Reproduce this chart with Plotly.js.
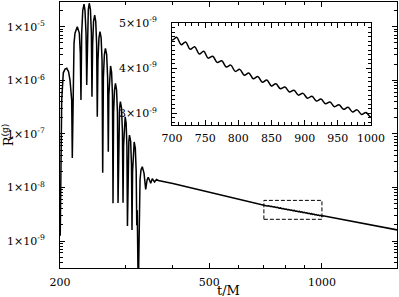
<!DOCTYPE html>
<html>
<head>
<meta charset="utf-8">
<script src="https://cdn.plot.ly/plotly-3.0.1.min.js"></script>
<style>html,body{margin:0;padding:0;background:#fff;}#plot{width:399px;height:297px;}</style>
</head>
<body>
<div id="plot"></div>
<script>
// ringdown part of R^(g)(t)
const tRing = [200.3, 201.2, 202.1, 204.1, 206.3, 208.5, 210.8, 212.7, 214.9, 215.7,
 216.6, 218.0, 219.3, 222.4, 225.2, 226.6, 227.5,
 228.5, 230.0, 231.8, 233.2, 234.7, 235.7,
 236.6, 238.0, 239.4, 241.1, 242.5, 243.4,
 244.4, 245.8, 247.5, 249.1, 250.5, 251.5,
 252.5, 254.1, 255.7, 257.5, 259.0, 260.0,
 261.1, 262.7, 264.4, 266.4, 268.0, 269.1,
 270.0, 271.5, 272.9, 274.6, 276.1, 277.0,
 278.0, 279.6, 281.2, 283.1, 284.7, 285.7,
 286.8, 288.4, 289.8, 291.9, 293.5, 294.6,
 295.6, 297.0, 298.5, 300.3, 301.7, 302.7,
 303.7, 305.3, 306.5, 308.7, 310.3, 311.3,
 312.4, 314.0, 315.5, 317.7, 319.4, 320.5, 321.5, 323.5,
 325.0, 327.0, 329.0, 331.6, 335.2, 337.2, 338.6,
 341.5, 344.0, 346.5, 349.2, 352.6, 357.4, 362.0, 366.0];
const rRing = [1.26e-9, 1.0e-7, 4.27e-7, 1.38e-6, 1.62e-6, 1.675e-6, 1.45e-6, 1.0e-6, 4.27e-7, 3.55e-8,
 6.31e-7, 4.9e-6, 7.59e-6, 1.0e-5, 7.59e-6, 3.16e-6, 4.29e-7,
 7.41e-6, 2.0e-5, 2.65e-5, 2.0e-5, 7.41e-6, 8.17e-7,
 7.76e-6, 2.09e-5, 2.74e-5, 2.09e-5, 7.76e-6, 4.94e-7,
 4.68e-6, 1.26e-5, 1.65e-5, 1.26e-5, 4.68e-6, 2.09e-7,
 2.29e-6, 6.17e-6, 8.07e-6, 6.17e-6, 2.29e-6, 1.89e-8,
 1.12e-6, 3.02e-6, 3.95e-6, 3.02e-6, 1.12e-6, 4.66e-8,
 5.25e-7, 1.41e-6, 1.85e-6, 1.41e-6, 5.25e-7, 5.07e-9,
 2.45e-7, 6.61e-7, 8.79e-7, 6.61e-7, 2.45e-7, 5.14e-9,
 1.12e-7, 3.02e-7, 3.99e-7, 3.02e-7, 1.12e-7, 5.2e-9,
 5.89e-8, 1.58e-7, 2.09e-7, 1.58e-7, 5.89e-8, 1.91e-9,
 2.69e-8, 7.24e-8, 9.53e-8, 7.24e-8, 2.69e-8, 1.61e-9,
 2.0e-8, 5.37e-8, 7.06e-8, 5.37e-8, 2.0e-8, 1.98e-9, 3.77e-9, 1.0e-10,
 3.16e-9, 1.38e-8, 2.14e-8, 2.44e-8, 1.84e-8, 1.2e-8, 9.25e-9,
 1.38e-8, 1.55e-8, 1.38e-8, 1.2e-8, 1.46e-8, 1.27e-8, 1.41e-8, 1.35e-8];

// late-time tail (with small oscillations)
const tTail = [400, 450, 500, 550, 600, 650, 700,
 707.0, 713.8, 720.6, 727.4, 734.2, 741.0, 747.8, 754.6, 761.4, 768.2,
 775.0, 781.8, 788.6, 795.4, 802.2, 809.0, 815.8, 822.6, 829.4, 836.2,
 843.0, 849.8, 856.6, 863.4, 870.2, 877.0, 883.8, 890.6, 897.4, 904.2,
 911.0, 917.8, 924.6, 931.4, 938.2, 945.0, 951.8, 958.6, 965.4, 972.2,
 979.0, 985.8, 992.6, 999.4, 1006.2, 1100, 1250, 1400, 1600];
const rTail = [1.19e-8, 9.77e-9, 8.2e-9, 6.99e-9, 6.04e-9, 5.29e-9, 4.625e-9,
 4.682e-9, 4.520e-9, 4.578e-9, 4.417e-9, 4.475e-9, 4.313e-9, 4.372e-9, 4.222e-9, 4.263e-9, 4.124e-9,
 4.165e-9, 4.026e-9, 4.067e-9, 3.928e-9, 3.972e-9, 3.843e-9, 3.893e-9, 3.764e-9, 3.815e-9, 3.685e-9,
 3.736e-9, 3.606e-9, 3.653e-9, 3.543e-9, 3.582e-9, 3.473e-9, 3.511e-9, 3.402e-9, 3.441e-9, 3.334e-9,
 3.376e-9, 3.271e-9, 3.314e-9, 3.209e-9, 3.251e-9, 3.146e-9, 3.189e-9, 3.087e-9, 3.132e-9, 3.030e-9,
 3.075e-9, 2.973e-9, 3.018e-9, 2.916e-9, 2.962e-9, 2.62e-9, 2.22e-9, 1.90e-9, 1.60e-9];

// tick labels
const xTickVals = [200, 500, 1000];
const xTickText = ['200', '500', '1000'];
const yTickVals = [1e-9, 1e-8, 1e-7, 1e-6, 1e-5];
const yTickText = ['1×10<sup>-9</sup>', '1×10<sup>-8</sup>', '1×10<sup>-7</sup>', '1×10<sup>-6</sup>', '1×10<sup>-5</sup>'];
const insetXTickVals = [700, 750, 800, 850, 900, 950, 1000];
const insetYTickVals = [3e-9, 4e-9, 5e-9];
const insetYTickText = ['3×10<sup>-9</sup>', '4×10<sup>-9</sup>', '5×10<sup>-9</sup>'];

// zoom window marked on the main panel
const boxT = [700, 1000, 1000, 700, 700];
const boxR = [2.55e-9, 2.55e-9, 5.75e-9, 5.75e-9, 2.55e-9];

const tAll = tRing.concat(tTail);
const rAll = rRing.concat(rTail);

// minor ticks for log axes
const xMinor = [300, 400, 600, 700, 800, 900];
const yMinor = [];
for (let e = -10; e <= -5; e++) for (let m = 2; m <= 9; m++) yMinor.push(m * Math.pow(10, e));

const FONT = '"DejaVu Serif", serif';
const TS = 11;

const traces = [
  {x: tAll, y: rAll, type: 'scatter', mode: 'lines', line: {color: 'black', width: 1.5}, xaxis: 'x', yaxis: 'y', hoverinfo: 'skip'},
  {x: boxT, y: boxR, type: 'scatter', mode: 'lines', line: {color: 'black', width: 1, dash: '4px,2px'}, xaxis: 'x', yaxis: 'y', hoverinfo: 'skip'},
  {x: tAll, y: rAll, type: 'scatter', mode: 'lines', line: {color: 'black', width: 1.5, shape: 'spline', smoothing: 1}, xaxis: 'x2', yaxis: 'y2', hoverinfo: 'skip'}
];

const tickF = {family: FONT, size: TS, color: 'black'};
const axBase = {
  showline: true, linecolor: 'black', linewidth: 1, mirror: 'allticks',
  ticks: 'inside', tickcolor: 'black', tickwidth: 1,
  showgrid: false, zeroline: false, tickfont: tickF, automargin: false
};
const minorBase = {ticks: 'inside', ticklen: 3, tickcolor: 'black', tickwidth: 1, showgrid: false};

const layout = {
  width: 399, height: 297,
  margin: {l: 60, r: 2, t: 2, b: 29, pad: 0},
  paper_bgcolor: 'white', plot_bgcolor: 'white',
  showlegend: false,
  font: {family: FONT, size: TS, color: 'black'},
  xaxis: Object.assign({}, axBase, {
    type: 'log', range: [Math.log10(200), Math.log10(1586)],
    tickmode: 'array', tickvals: xTickVals, ticktext: xTickText, ticklen: 5,
    ticklabelstandoff: 4,
    minor: Object.assign({tickmode: 'array', tickvals: xMinor}, minorBase)
  }),
  yaxis: Object.assign({}, axBase, {
    type: 'log', range: [-9.502, -4.539],
    tickmode: 'array', tickvals: yTickVals, ticktext: yTickText, ticklen: 5,
    ticklabelstandoff: 12,
    minor: Object.assign({tickmode: 'array', tickvals: yMinor}, minorBase),
    title: {text: 'R<sup>(g)</sup>', font: {family: FONT, size: 13, color: 'black'}, standoff: 12}
  }),
  xaxis2: Object.assign({}, axBase, {
    domain: [0.3323, 0.9228], anchor: 'y2',
    range: [700, 1000], tickmode: 'array', tickvals: insetXTickVals, ticklen: 5,
    ticklabelstandoff: 3,
    minor: Object.assign({dtick: 10, tick0: 700}, minorBase)
  }),
  yaxis2: Object.assign({}, axBase, {
    domain: [0.5376, 0.9211], anchor: 'x2',
    range: [2.74e-9, 5e-9], tickmode: 'array', tickvals: insetYTickVals, ticktext: insetYTickText, ticklen: 5,
    ticklabelstandoff: 12,
    minor: Object.assign({dtick: 1e-10, tick0: 0}, minorBase)
  }),
  annotations: [{
    text: 't/M', xref: 'paper', yref: 'paper', x: 0.5, y: -0.085,
    xanchor: 'center', yanchor: 'middle', showarrow: false,
    font: {family: FONT, size: 13, color: 'black'}
  }]
};

Plotly.newPlot('plot', traces, layout, {staticPlot: true, displayModeBar: false});
</script>
</body>
</html>
